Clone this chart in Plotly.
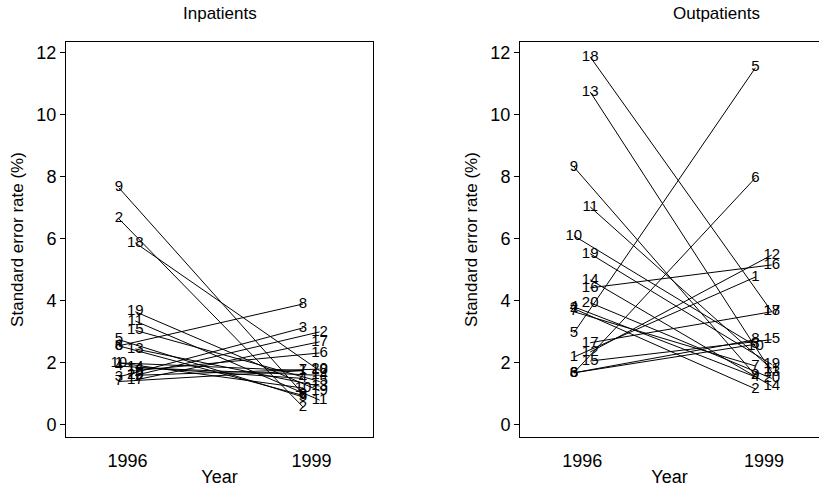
import plotly.graph_objects as go

W, H = 819, 487

hospital_ids = list(range(1, 21))
years = [1996, 1999]

inpatient_1996 = [2.0, 6.65, 1.55, 1.9, 2.75, 2.55, 1.40, 2.55, 7.65, 2.0,
                  3.35, 1.6, 2.45, 1.85, 3.05, 1.75, 1.45, 5.87, 3.65, 1.6]
inpatient_1999 = [1.75, 0.58, 3.13, 1.5, 0.9, 0.95, 1.75, 3.90, 1.0, 1.19,
                  0.8, 3.0, 1.25, 1.6, 1.4, 2.32, 2.68, 1.75, 1.1, 1.8]

outpatient_1996 = [2.19, 3.75, 1.68, 3.81, 2.97, 1.68, 3.65, 1.68, 8.32, 6.10,
                   7.03, 2.35, 10.74, 4.68, 2.06, 4.42, 2.65, 11.87, 5.52, 3.94]
outpatient_1999 = [4.77, 1.16, 2.6, 1.55, 11.52, 7.97, 1.9, 2.75, 1.6, 2.55,
                   1.8, 5.48, 1.7, 1.25, 2.75, 5.16, 3.65, 3.65, 1.95, 1.5]

y_ticks = [0, 2, 4, 6, 8, 10, 12]

# horizontal label offset (style): ids 1-10 left of the year, 11-20 right
OFF_LEFT, OFF_RIGHT = -0.14, 0.13

FONT = "Liberation Sans, Arial, sans-serif"

fig = go.Figure()


def add_panel(v96, v99, xa, ya):
    lx, ly, tx, ty, tt = [], [], [], [], []
    for hid, a, b in zip(hospital_ids, v96, v99):
        off = OFF_LEFT if hid <= 10 else OFF_RIGHT
        x0, x1 = years[0] + off, years[1] + off
        lx += [x0, x1, None]
        ly += [a, b, None]
        tx += [x0, x1]
        ty += [a, b]
        tt += [str(hid), str(hid)]
    fig.add_trace(go.Scatter(x=lx, y=ly, mode="lines",
                             line=dict(color="black", width=1),
                             xaxis=xa, yaxis=ya, showlegend=False,
                             hoverinfo="skip"))
    fig.add_trace(go.Scatter(x=tx, y=ty, mode="text", text=tt,
                             textposition="middle center",
                             textfont=dict(family=FONT, size=15, color="black"),
                             xaxis=xa, yaxis=ya, showlegend=False))


add_panel(inpatient_1996, inpatient_1999, "x", "y")
add_panel(outpatient_1996, outpatient_1999, "x2", "y2")

ybot = (H - 437) / H
ytop = (H - 42) / H

xcommon = dict(tickvals=years, ticktext=[str(y) for y in years], ticks="",
               ticklabelstandoff=7,
               showgrid=False, zeroline=False, showline=True, linecolor="black",
               linewidth=1, tickfont=dict(family=FONT, size=18, color="black"),
               title=dict(text="Year", font=dict(family=FONT, size=18, color="black"),
                          standoff=0))
ycommon = dict(tickvals=y_ticks, ticks="outside", ticklen=5, tickcolor="black",
               showgrid=False, zeroline=False, showline=True, linecolor="black",
               linewidth=1, range=[-0.39, 12.35],
               tickfont=dict(family=FONT, size=18, color="black"),
               title=dict(text="Standard error rate (%)",
                          font=dict(family=FONT, size=17, color="black"),
                          standoff=8))

fig.update_layout(
    width=W, height=H,
    margin=dict(l=0, r=0, t=0, b=0),
    paper_bgcolor="white", plot_bgcolor="white",
    xaxis=dict(domain=[66 / W, 373 / W], range=[1995, 2000], mirror=True,
               anchor="y", **xcommon),
    yaxis=dict(domain=[ybot, ytop], anchor="x", mirror=True, **ycommon),
    xaxis2=dict(domain=[520 / W, 1.0], range=[1994.97, 1999.91], mirror=True,
                anchor="y2", **xcommon),
    yaxis2=dict(domain=[ybot, ytop], anchor="x2", mirror=False, **ycommon),
    annotations=[
        dict(text="Inpatients", x=220 / W, y=1 - 14 / H, xref="paper", yref="paper",
             showarrow=False, xanchor="center", yanchor="middle",
             font=dict(family=FONT, size=17, color="black")),
        dict(text="Outpatients", x=716 / W, y=1 - 14 / H, xref="paper", yref="paper",
             showarrow=False, xanchor="center", yanchor="middle",
             font=dict(family=FONT, size=17, color="black")),
    ],
)

fig.write_html("out.html")
